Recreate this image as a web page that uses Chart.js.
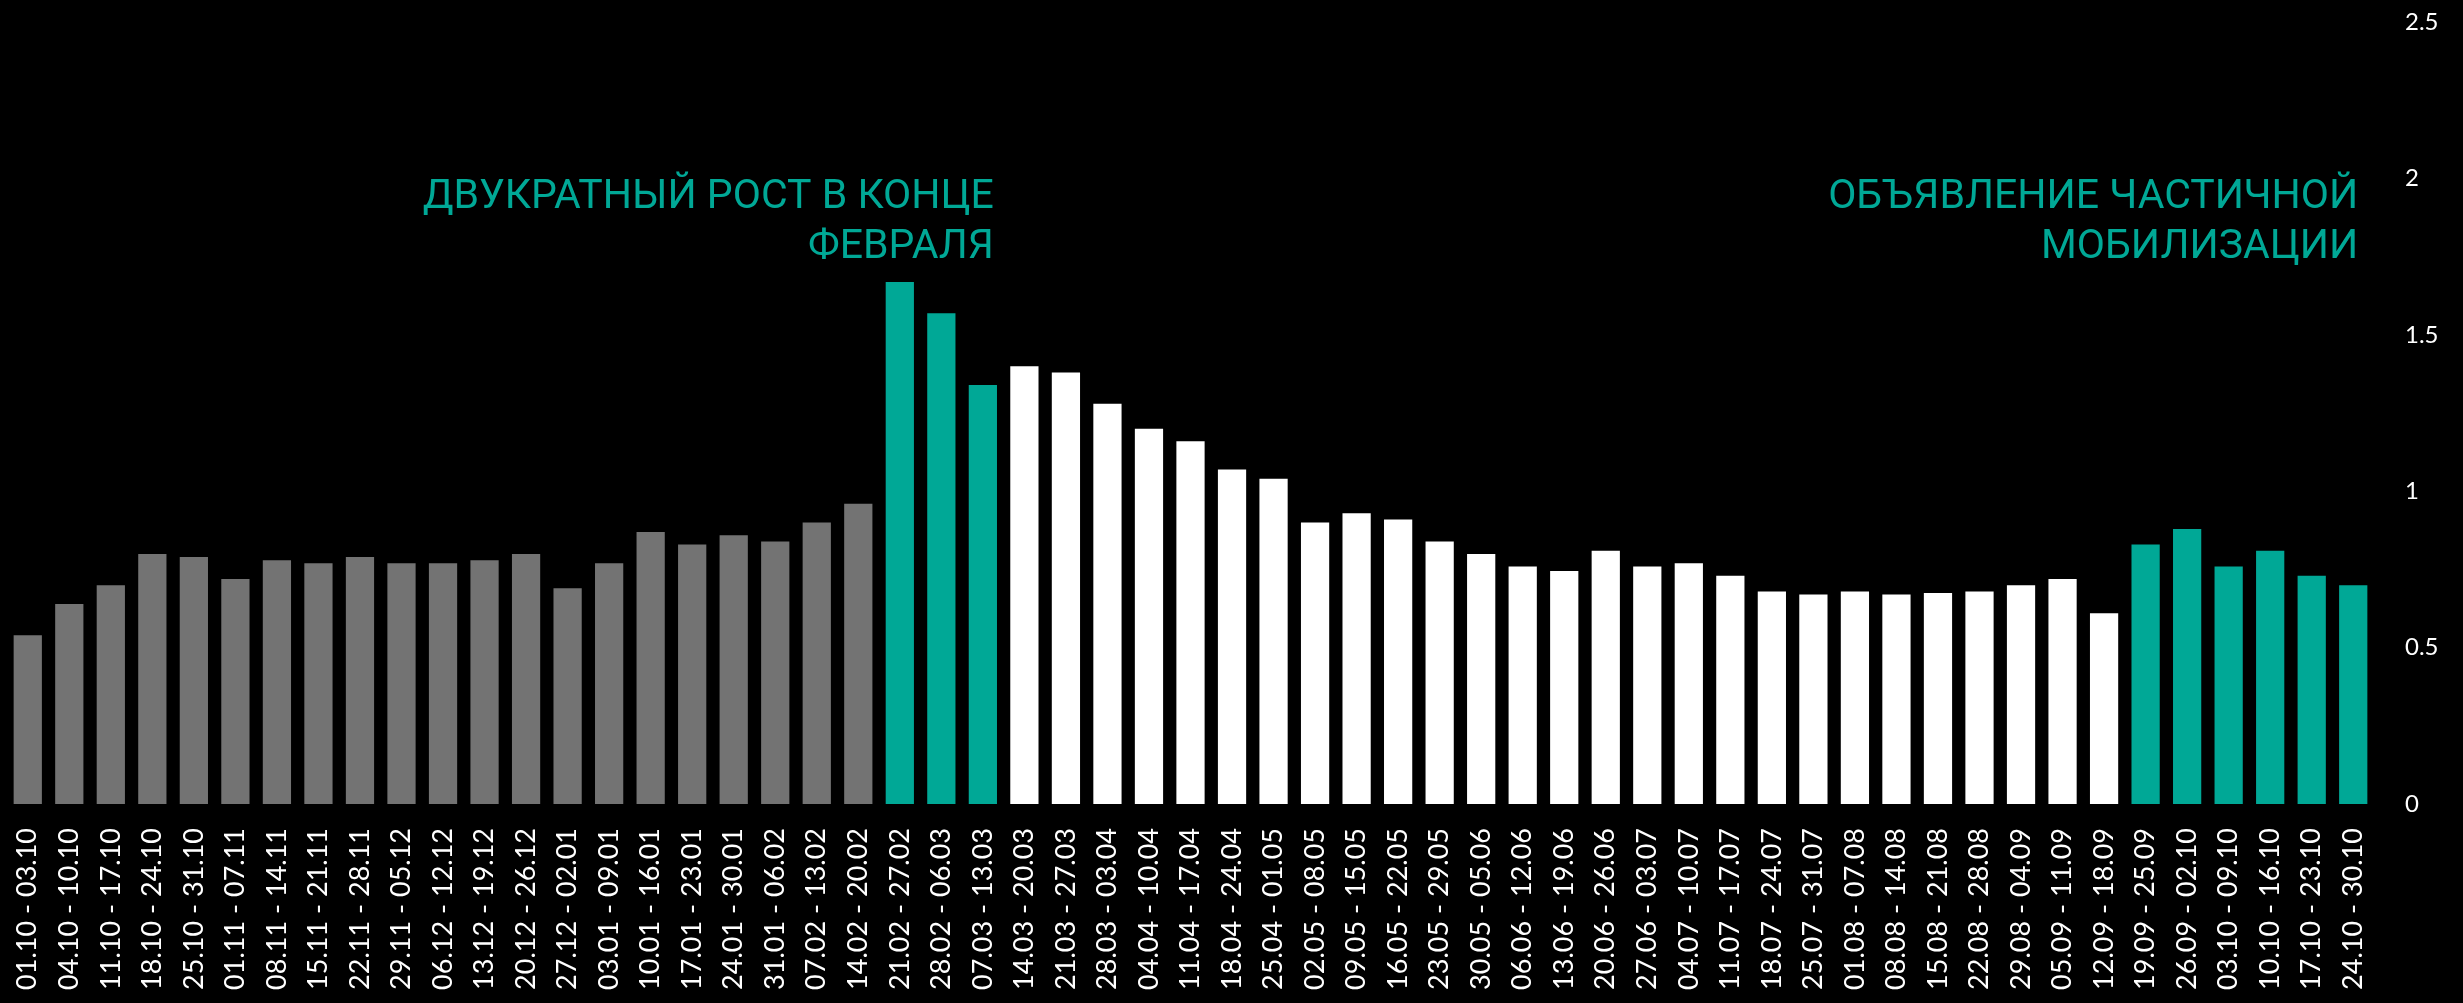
<!DOCTYPE html>
<html>
<head>
<meta charset="utf-8">
<script src="https://cdn.jsdelivr.net/npm/chart.js@4"></script>
<style>
  html, body { margin: 0; padding: 0; background: #000; }
  #wrap { width: 2463px; height: 1003px; }
</style>
</head>
<body>
<div id="wrap"><canvas id="chart" width="2463" height="1003"></canvas></div>
<script>
// недели с 01.10 по 30.10
const weeks = [
  "01.10 - 03.10", "04.10 - 10.10", "11.10 - 17.10", "18.10 - 24.10", "25.10 - 31.10",
  "01.11 - 07.11", "08.11 - 14.11", "15.11 - 21.11", "22.11 - 28.11", "29.11 - 05.12",
  "06.12 - 12.12", "13.12 - 19.12", "20.12 - 26.12", "27.12 - 02.01", "03.01 - 09.01",
  "10.01 - 16.01", "17.01 - 23.01", "24.01 - 30.01", "31.01 - 06.02", "07.02 - 13.02",
  "14.02 - 20.02", "21.02 - 27.02", "28.02 - 06.03", "07.03 - 13.03", "14.03 - 20.03",
  "21.03 - 27.03", "28.03 - 03.04", "04.04 - 10.04", "11.04 - 17.04", "18.04 - 24.04",
  "25.04 - 01.05", "02.05 - 08.05", "09.05 - 15.05", "16.05 - 22.05", "23.05 - 29.05",
  "30.05 - 05.06", "06.06 - 12.06", "13.06 - 19.06", "20.06 - 26.06", "27.06 - 03.07",
  "04.07 - 10.07", "11.07 - 17.07", "18.07 - 24.07", "25.07 - 31.07", "01.08 - 07.08",
  "08.08 - 14.08", "15.08 - 21.08", "22.08 - 28.08", "29.08 - 04.09", "05.09 - 11.09",
  "12.09 - 18.09", "19.09 - 25.09", "26.09 - 02.10", "03.10 - 09.10", "10.10 - 16.10",
  "17.10 - 23.10", "24.10 - 30.10"
];

const values = [
  0.54, 0.64, 0.70, 0.80, 0.79, 0.72, 0.78, 0.77, 0.79, 0.77,
  0.77, 0.78, 0.80, 0.69, 0.77, 0.87, 0.83, 0.86, 0.84, 0.90,
  0.96, 1.67, 1.57, 1.34, 1.40, 1.38, 1.28, 1.20, 1.16, 1.07,
  1.04, 0.90, 0.93, 0.91, 0.84, 0.80, 0.76, 0.745, 0.81, 0.76,
  0.77, 0.73, 0.68, 0.67, 0.68, 0.67, 0.675, 0.68, 0.70, 0.72,
  0.61, 0.83, 0.88, 0.76, 0.81, 0.73, 0.70
];

const yTicks = [0, 0.5, 1, 1.5, 2, 2.5];

const notes = [
  { lines: ["ДВУКРАТНЫЙ РОСТ В КОНЦЕ", "ФЕВРАЛЯ"], anchor: 23, dx: 11 },
  { lines: ["ОБЪЯВЛЕНИЕ ЧАСТИЧНОЙ", "МОБИЛИЗАЦИИ"], anchor: 56, dx: 5 }
];

// периоды для раскраски
const spikeStart = 21, spikeEnd = 24, mobilizationStart = 51;

const GRAY = "#737373";
const TEAL = "#00a896";
const WHITE = "#ffffff";

function barColor(i) {
  if (i < spikeStart) return GRAY;
  if (i < spikeEnd) return TEAL;
  if (i < mobilizationStart) return WHITE;
  return TEAL;
}

const notesPlugin = {
  id: "notes",
  afterDraw(chart) {
    const { ctx, scales } = chart;
    ctx.save();
    ctx.fillStyle = TEAL;
    ctx.font = "41px Roboto";
    ctx.textAlign = "right";
    ctx.textBaseline = "alphabetic";
    notes.forEach(note => {
      const x = scales.x.getPixelForValue(note.anchor) + note.dx;
      note.lines.forEach((line, k) => {
        const y = scales.y.getPixelForValue(1.907) + k * 50;
        ctx.fillText(line, x, y);
      });
    });
    ctx.restore();
  }
};

new Chart(document.getElementById("chart"), {
  type: "bar",
  data: {
    labels: weeks,
    datasets: [{
      data: values,
      backgroundColor: values.map((_, i) => barColor(i)),
      borderWidth: 0,
      categoryPercentage: 1,
      barPercentage: 0.68
    }]
  },
  options: {
    responsive: false,
    animation: false,
    layout: { padding: { left: 7, top: 0, right: 0, bottom: 0 } },
    plugins: {
      legend: { display: false },
      tooltip: { enabled: false }
    },
    scales: {
      x: {
        grid: { display: false },
        border: { display: false },
        ticks: {
          color: "#ffffff",
          font: { family: "Lato", size: 27 },
          minRotation: 90,
          maxRotation: 90,
          autoSkip: false,
          padding: 16
        },
        afterFit(axis) { axis.height = 199; }
      },
      y: {
        position: "right",
        min: 0,
        max: 2.5,
        grid: { display: false, drawTicks: true, tickLength: 23 },
        border: { display: false },
        afterBuildTicks(axis) { axis.ticks = yTicks.map(v => ({ value: v })); },
        ticks: {
          color: "#ffffff",
          font: { family: "Lato", size: 24 },
          padding: 8,
          callback: v => String(v)
        },
        afterFit(axis) { axis.width = 89; }
      }
    }
  },
  plugins: [notesPlugin]
});
</script>
</body>
</html>
